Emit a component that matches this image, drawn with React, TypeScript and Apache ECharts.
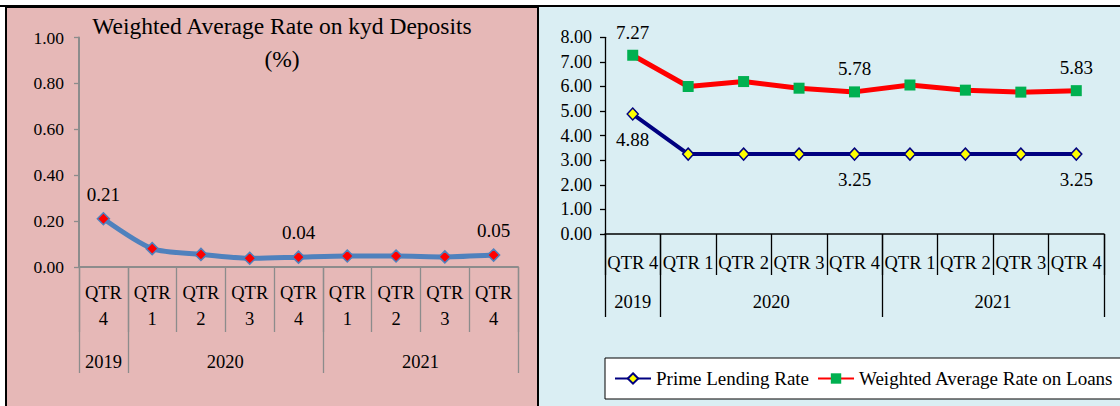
import React, { useEffect, useRef } from 'react';
import * as echarts from 'echarts';

// ---- data ----
const quarters = ['QTR 4', 'QTR 1', 'QTR 2', 'QTR 3', 'QTR 4', 'QTR 1', 'QTR 2', 'QTR 3', 'QTR 4'];
const years = ['2019', '2020', '2021'];
const quartersPerYear = [1, 4, 4];
const depositRates = [0.21, 0.08, 0.055, 0.038, 0.043, 0.048, 0.048, 0.044, 0.052];
const primeLendingRates = [4.88, 3.25, 3.25, 3.25, 3.25, 3.25, 3.25, 3.25, 3.25];
const loanRates = [7.27, 6.0, 6.2, 5.93, 5.78, 6.06, 5.85, 5.77, 5.83];
const depositAxis = { min: 0, max: 1, step: 0.2 };
const ratesAxis = { min: 0, max: 8, step: 1 };
const labelledPoints = [0, 4, 8];
const depositTitle = ['Weighted Average Rate on kyd Deposits', '(%)'];
const seriesNames = ['Prime Lending Rate', 'Weighted Average Rate on Loans'];

// year grouping on a half-category grid
const slotCount = quarters.length * 2 + 1;
const yearSlots: string[] = new Array(slotCount).fill('');
const yearLabelSlots = new Set<number>();
const yearTickSlots = new Set<number>([slotCount - 1]);
{
  let start = 0;
  years.forEach((y, i) => {
    const c = quartersPerYear[i];
    yearTickSlots.add(start * 2);
    yearLabelSlots.add(start * 2 + c);
    yearSlots[start * 2 + c] = y;
    start += c;
  });
}
const slotIds = yearSlots.map((_, i) => 's' + i);

const FONT = 'Liberation Serif';

function points(values: number[], pos: string, dist: number, size: number) {
  return values.map((v, i) =>
    labelledPoints.includes(i)
      ? { value: v, label: { show: true, position: pos, distance: dist, fontSize: size, color: '#000', fontFamily: FONT } }
      : v
  );
}

export default function App() {
  const ref = useRef<HTMLDivElement>(null);
  useEffect(() => {
    if (!ref.current) return;
    const chart = echarts.init(ref.current, undefined, { renderer: 'svg' });
    const gray = '#8c8c8c';
    const quarterAxis = (grid: number, color: string, lw: number, tickLen: number, margin: number, twoLine: boolean) => ({
      type: 'category',
      gridIndex: grid,
      position: 'bottom',
      data: quarters,
      boundaryGap: true,
      axisLine: { show: true, lineStyle: { color, width: lw } },
      axisTick: { show: true, interval: 0, length: tickLen, lineStyle: { color, width: 1.3 } },
      axisLabel: {
        interval: 0,
        formatter: (v: string) => (twoLine ? v.replace(' ', '\n') : v),
        fontSize: 18.5,
        lineHeight: 26,
        margin,
        color: '#000',
        fontFamily: FONT,
      },
      splitLine: { show: false },
    });
    const yearAxis = (grid: number, color: string, tickLen: number, margin: number) => ({
      type: 'category',
      gridIndex: grid,
      position: 'bottom',
      data: slotIds,
      boundaryGap: false,
      axisLine: { show: false },
      axisTick: {
        show: true,
        interval: (idx: number) => yearTickSlots.has(idx),
        length: tickLen,
        lineStyle: { color, width: 1.3 },
      },
      axisLabel: {
        interval: (idx: number) => yearLabelSlots.has(idx),
        formatter: (_v: string, idx: number) => yearSlots[idx],
        fontSize: 18.5,
        margin,
        color: '#000',
        fontFamily: FONT,
      },
      splitLine: { show: false },
    });
    const valueAxis = (grid: number, ax: { min: number; max: number; step: number }, color: string, lw: number, size: number, margin: number) => ({
      type: 'value',
      gridIndex: grid,
      min: ax.min,
      max: ax.max,
      interval: ax.step,
      axisLine: { show: true, lineStyle: { color, width: lw } },
      axisTick: { show: true, length: 5, lineStyle: { color, width: 1.3 } },
      axisLabel: { formatter: (v: number) => v.toFixed(2), fontSize: size, color: '#000', fontFamily: FONT, margin },
      splitLine: { show: false },
    });

    chart.setOption({
      animation: false,
      backgroundColor: '#ffffff',
      graphic: {
        elements: [
          { type: 'rect', z: -100, shape: { x: 6, y: 7, width: 532, height: 420 }, style: { fill: '#E6B8B7', stroke: '#000', lineWidth: 2 } },
          { type: 'rect', z: -100, shape: { x: 539, y: 7, width: 600, height: 420 }, style: { fill: '#DAEEF3' } },
          { type: 'line', z: -99, shape: { x1: 0, y1: 6, x2: 1120, y2: 6 }, style: { stroke: '#000', lineWidth: 2 } },
          { type: 'text', z: 10, x: 282, y: 26, style: { text: depositTitle[0], align: 'center', verticalAlign: 'middle', fontSize: 23.5, fontFamily: FONT, fill: '#000' } },
          { type: 'text', z: 10, x: 282, y: 59, style: { text: depositTitle[1], align: 'center', verticalAlign: 'middle', fontSize: 23.5, fontFamily: FONT, fill: '#000' } },
        ],
      },
      grid: [
        { left: 79, top: 37.5, width: 439, height: 229.5 },
        { left: 605, top: 37.3, width: 499, height: 196.7 },
      ],
      xAxis: [
        quarterAxis(0, gray, 2, 65, 13, true),
        yearAxis(0, gray, 106, 85),
        quarterAxis(1, '#000', 1.5, 41, 16, false),
        yearAxis(1, '#000', 83, 58),
      ],
      yAxis: [
        valueAxis(0, depositAxis, gray, 2, 17.5, 15),
        valueAxis(1, ratesAxis, '#000', 1.3, 18, 13),
      ],
      legend: {
        data: seriesNames,
        left: 605,
        top: 358,
        width: 700,
        orient: 'horizontal',
        backgroundColor: '#fff',
        borderColor: '#000',
        borderWidth: 1,
        borderRadius: 0,
        padding: [11, 12, 11, 9],
        itemGap: 8,
        itemWidth: 36,
        itemHeight: 13,
        textStyle: { fontSize: 19, color: '#000', fontFamily: FONT },
      },
      series: [
        {
          name: depositTitle[0],
          type: 'line',
          xAxisIndex: 0,
          yAxisIndex: 0,
          smooth: 0.25,
          data: points(depositRates, 'top', 8, 19),
          symbol: 'diamond',
          symbolSize: 12,
          lineStyle: { color: '#4F81BD', width: 5 },
          itemStyle: { color: '#FF0000', borderColor: '#4F81BD', borderWidth: 1.5 },
          label: { formatter: (p: any) => p.value.toFixed(2) },
          z: 3,
        },
        {
          name: seriesNames[0],
          type: 'line',
          xAxisIndex: 2,
          yAxisIndex: 1,
          data: points(primeLendingRates, 'bottom', 9, 19),
          symbol: 'diamond',
          symbolSize: [11, 12],
          lineStyle: { color: '#000080', width: 4 },
          itemStyle: { color: '#FFFF00', borderColor: '#000080', borderWidth: 1.5 },
          label: { formatter: (p: any) => p.value.toFixed(2) },
          z: 3,
        },
        {
          name: seriesNames[1],
          type: 'line',
          xAxisIndex: 2,
          yAxisIndex: 1,
          data: points(loanRates, 'top', 8, 19),
          symbol: 'rect',
          symbolSize: 11,
          lineStyle: { color: '#FF0000', width: 5 },
          itemStyle: { color: '#00B050', borderColor: '#00B050', borderWidth: 0 },
          label: { formatter: (p: any) => p.value.toFixed(2) },
          z: 3,
        },
      ],
    });
    return () => chart.dispose();
  }, []);
  return <div ref={ref} style={{ position: 'absolute', left: 0, top: 0, width: 1120, height: 406 }} />;
}
